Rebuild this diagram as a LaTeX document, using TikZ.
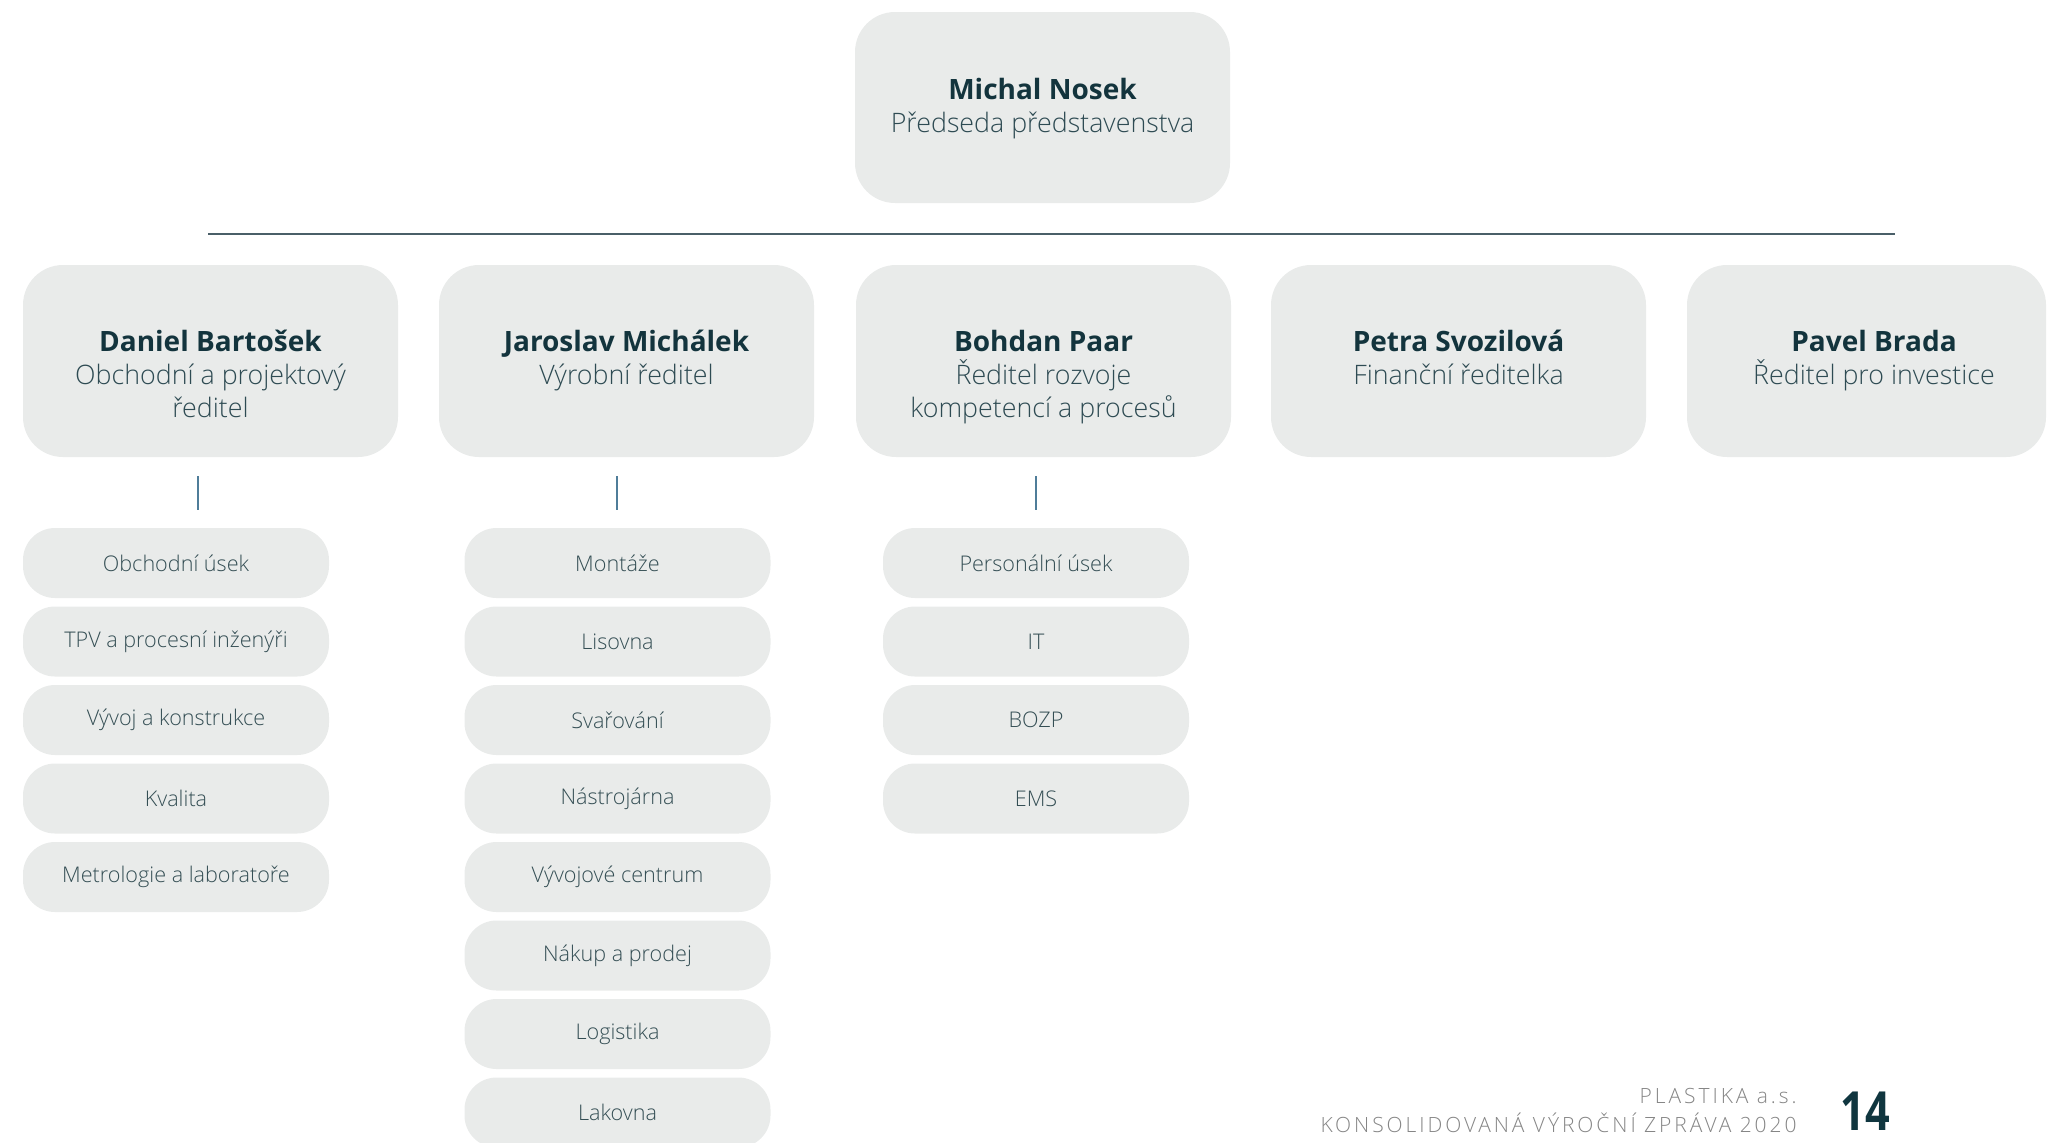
\documentclass[tikz,border=0pt]{standalone}
\usepackage{fontspec}
\setmainfont{Open Sans}
\newfontfamily\oslight{Open Sans Light}
\newfontfamily\osfoot{Open Sans Light}[LetterSpace=14]
\definecolor{boxgray}{HTML}{E9EBEA}
\definecolor{nametext}{HTML}{13343D}
\definecolor{subtitletext}{HTML}{2E4B53}
\definecolor{subtext}{HTML}{344E54}
\definecolor{linkblue}{HTML}{4F7D99}
\definecolor{rulecol}{HTML}{4A5F68}
\definecolor{footgray}{HTML}{858585}
\definecolor{pagenum}{HTML}{10363F}
\newcommand\headcontent[2]{\parbox[t]{185pt}{\centering\leavevmode{\bfseries\fontsize{14}{16.5}\selectfont\color{nametext}#1}\\{\oslight\fontsize{13.4}{16.5}\selectfont\color{subtitletext}#2\par}}}
\tikzset{
 headbox/.style={fill=boxgray, rounded corners=20pt, minimum width=187.5pt, minimum height=96pt, inner sep=0pt, draw=none},
 subbox/.style={fill=boxgray, rounded corners=16pt, minimum width=153pt, minimum height=35pt, inner sep=0pt, text=subtext, font=\oslight\fontsize{10.8}{13}\selectfont},
 headtext/.style={inner sep=0pt, anchor=base},
 vline/.style={draw=linkblue, line width=0.75pt},
}
\begin{document}
\begin{tikzpicture}[x=0.5pt,y=-0.5pt]
\useasboundingbox (0,0) rectangle (2049,1142);
\clip (0,0) rectangle (2049,1142);
% top
\node[headbox, minimum height=95.5pt] (michal) at (1042.5,107.5) {};
\node[headtext] (michalt) at ([yshift=-44pt]michal.north) {\headcontent{Michal Nosek}{Předseda představenstva}};
% rule
\coordinate (ruleL) at (208,234);
\coordinate (ruleR) at (1895,234);
\draw[draw=rulecol, line width=0.6pt] (ruleL) -- (ruleR);
% row of directors
\node[headbox] (daniel) at (210.5,361) {};
\node[headbox] (jaroslav) at (626.5,361) {};
\node[headbox] (bohdan) at (1043.5,361) {};
\node[headbox] (petra) at (1458.5,361) {};
\node[headbox, minimum width=179.5pt] (pavel) at (1866.5,361) {};
\node[headtext] (danielt) at ([yshift=-43.5pt]daniel.north) {\headcontent{Daniel Bartošek}{Obchodní a projektový\\ředitel}};
\node[headtext] (jaroslavt) at ([yshift=-43.5pt]jaroslav.north) {\headcontent{Jaroslav Michálek}{Výrobní ředitel}};
\node[headtext] (bohdant) at ([yshift=-43.5pt]bohdan.north) {\headcontent{Bohdan Paar}{Ředitel rozvoje\\kompetencí a procesů}};
\node[headtext] (petrat) at ([yshift=-43.5pt]petra.north) {\headcontent{Petra Svozilová}{Finanční ředitelka}};
\node[headtext] (pavelt) at ([xshift=3.75pt,yshift=-43.5pt]pavel.north) {\headcontent{Pavel Brada}{Ředitel pro investice}};
% connectors
\coordinate (c1a) at (198,476); \coordinate (c1b) at (198,510);
\coordinate (c2a) at (617,476); \coordinate (c2b) at (617,510);
\coordinate (c3a) at (1036,476); \coordinate (c3b) at (1036,510);
\draw[vline] (c1a) -- (c1b);
\draw[vline] (c2a) -- (c2b);
\draw[vline] (c3a) -- (c3b);
% column 1
\node[subbox] (s11) at (176,563) {Obchodní úsek};
\node[subbox] (s12) at (176,641.5) {TPV a procesní inženýři};
\node[subbox] (s13) at (176,720) {Vývoj a konstrukce};
\node[subbox] (s14) at (176,798.5) {Kvalita};
\node[subbox] (s15) at (176,877) {Metrologie a laboratoře};
% column 2
\node[subbox] (s21) at (617.5,563) {Montáže};
\node[subbox] (s22) at (617.5,641.5) {Lisovna};
\node[subbox] (s23) at (617.5,720) {Svařování};
\node[subbox] (s24) at (617.5,798.5) {Nástrojárna};
\node[subbox] (s25) at (617.5,877) {Vývojové centrum};
\node[subbox] (s26) at (617.5,955.5) {Nákup a prodej};
\node[subbox] (s27) at (617.5,1034) {Logistika};
\node[subbox] (s28) at (617.5,1112.5) {Lakovna};
% column 3
\node[subbox] (s31) at (1036,563) {Personální úsek};
\node[subbox] (s32) at (1036,641.5) {IT};
\node[subbox] (s33) at (1036,720) {BOZP};
\node[subbox] (s34) at (1036,798.5) {EMS};
% footer
\node[inner sep=0pt, anchor=base east, text=footgray, font=\osfoot\fontsize{10.5}{12}\selectfont] (foot1) at (1797,1103) {PLASTIKA a.s.};
\node[inner sep=0pt, anchor=base east, text=footgray, font=\osfoot\fontsize{10.5}{12}\selectfont] (foot2) at (1797,1132) {KONSOLIDOVANÁ VÝROČNÍ ZPRÁVA 2020};
\node[inner sep=0pt, anchor=base west, text=pagenum, font=\bfseries\fontsize{27}{30}\selectfont, xscale=0.8] (page) at (1840,1130) {14};
\end{tikzpicture}
\end{document}
